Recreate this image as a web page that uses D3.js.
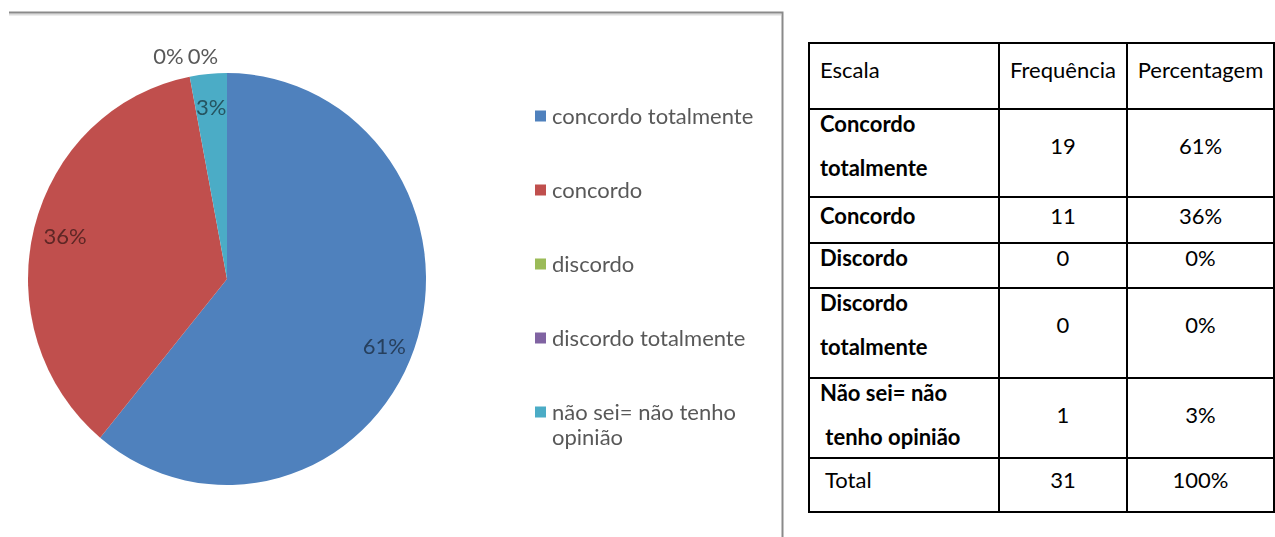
<!DOCTYPE html>
<html>
<head>
<meta charset="utf-8">
<script src="https://cdn.jsdelivr.net/npm/d3@7"></script>
<style>
  html, body { margin: 0; padding: 0; background: #fff; }
  svg { display: block; }
</style>
</head>
<body>
<svg id="chart" width="1275" height="537"></svg>
<script>
// ---- data ----
const categories = ["concordo totalmente", "concordo", "discordo", "discordo totalmente", "não sei= não tenho opinião"];
const percentValues = [61, 36, 0, 0, 3];
const sliceColors = ["#4F81BD", "#C0504D", "#9BBB59", "#8064A2", "#4BACC6"];

const tableHeader = ["Escala", "Frequência", "Percentagem"];
const tableScale = [["Concordo", "totalmente"], ["Concordo"], ["Discordo"], ["Discordo", "totalmente"], ["Não sei= não", "\u00a0tenho opinião"]];
const tableFrequency = [19, 11, 0, 0, 1];
const tablePercent = ["61%", "36%", "0%", "0%", "3%"];
const tableTotal = ["\u00a0Total", "31", "100%"];

// ---- layout ----
const svg = d3.select("#chart");
const FONT = "Lato, 'Open Sans', sans-serif";

// soft look of the chart panel
const defs = svg.append("defs");
defs.append("filter").attr("id", "soft")
  .append("feGaussianBlur").attr("stdDeviation", 0.55);

const panel = svg.append("g").attr("filter", "url(#soft)");

// panel frame: top and right edge
panel.append("path").attr("d", "M9,14.5H781").attr("stroke", "#dcdcdc").attr("stroke-width", 2).attr("fill", "none");
panel.append("path").attr("d", "M9,12.5H782.5V537").attr("stroke", "#8a8a8a").attr("stroke-width", 2).attr("fill", "none");

// pie
const cx = 227, cy = 279, rx = 199, ry = 206;
const pie = d3.pie().sort(null).value(d => d);
const arcs = pie(percentValues);
const arc = d3.arc().innerRadius(0).outerRadius(rx);

const pieG = panel.append("g").attr("transform", `translate(${cx},${cy}) scale(1,${ry / rx})`);
pieG.selectAll("path")
  .data(arcs)
  .join("path")
  .attr("d", arc)
  .attr("fill", (d, i) => sliceColors[i]);

// slice labels
const labelG = panel.append("g").attr("font-family", FONT).attr("font-size", 22);
const zeroArcs = [];
arcs.forEach((d, i) => {
  const a = (d.startAngle + d.endAngle) / 2;
  if (d.value > 0) {
    const k = 0.84;
    labelG.append("text")
      .attr("x", cx + Math.sin(a) * rx * k)
      .attr("y", cy - Math.cos(a) * ry * k + (Math.sin(a) > 0.5 ? 8 : 0))
      .attr("text-anchor", "middle")
      .attr("dy", "0.36em")
      .attr("fill", d3.color(sliceColors[i]).darker(2))
      .text(d3.format(".0%")(d.value / 100));
  } else {
    zeroArcs.push({ d, a });
  }
});
// zero-width slices get their labels just outside the rim, side by side
zeroArcs.forEach(({ d, a }, j) => {
  const off = 21;
  const x = cx + Math.sin(a) * (rx + off);
  const y = cy - Math.cos(a) * (ry + off);
  labelG.append("text")
    .attr("x", j === 0 ? x - 2 : x + 2)
    .attr("y", y)
    .attr("text-anchor", j === 0 ? "end" : "start")
    .attr("dy", "0.36em")
    .attr("fill", "#595959")
    .text(d3.format(".0%")(d.value / 100));
});

// legend
const legendX = 535, legendTop = 116, legendStep = 74, legendWrap = 222;
const legend = panel.append("g").attr("font-family", FONT).attr("font-size", 22).attr("fill", "#595959");
categories.forEach((name, i) => {
  const y = legendTop + i * legendStep;
  legend.append("rect")
    .attr("x", legendX).attr("y", y - 5.5)
    .attr("width", 11).attr("height", 11)
    .attr("fill", sliceColors[i]);
  const t = legend.append("text").attr("x", legendX + 17).attr("y", y).attr("dy", "0.36em");
  // simple word wrap
  const words = name.split(" ");
  let line = [];
  let ts = t.append("tspan").attr("x", legendX + 17).attr("dy", "0.36em");
  words.forEach(w => {
    line.push(w);
    ts.text(line.join(" "));
    if (ts.node().getComputedTextLength() > legendWrap && line.length > 1) {
      line.pop();
      ts.text(line.join(" "));
      line = [w];
      ts = t.append("tspan").attr("x", legendX + 17).attr("dy", "1.15em").text(w);
    }
  });
});

// ---- table ----
const colEdges = [809, 999, 1127, 1274];
const rowEdges = [43, 109, 197, 243, 288, 378, 458, 512];
const firstLinePad = [27, 15, 19, 15, 15, 15, 22];
const lineGap = 44;
const table = svg.append("g").attr("font-family", FONT).attr("font-size", 22).attr("fill", "#000");

const rows = [
  { cells: [[tableHeader[0]], tableHeader[1], tableHeader[2]], bold: false },
  ...tableScale.map((s, i) => ({ cells: [s, String(tableFrequency[i]), tablePercent[i]], bold: true })),
  { cells: [[tableTotal[0]], tableTotal[1], tableTotal[2]], bold: false }
];

rows.forEach((r, i) => {
  const top = rowEdges[i];
  const lines = r.cells[0];
  const first = top + firstLinePad[i];
  lines.forEach((ln, j) => {
    table.append("text")
      .attr("x", colEdges[0] + 11)
      .attr("y", first + j * lineGap)
      .attr("dy", "0.36em")
      .attr("font-weight", r.bold ? 700 : 400)
      .text(ln);
  });
  const mid = first + (lines.length - 1) * lineGap / 2;
  [1, 2].forEach(c => {
    table.append("text")
      .attr("x", (colEdges[c] + colEdges[c + 1]) / 2)
      .attr("y", mid)
      .attr("dy", "0.36em")
      .attr("text-anchor", "middle")
      .text(r.cells[c]);
  });
});

const grid = table.append("g").attr("stroke", "#000").attr("stroke-width", 2);
rowEdges.forEach(y => grid.append("line").attr("x1", colEdges[0] - 1).attr("x2", colEdges[3] + 1).attr("y1", y).attr("y2", y));
colEdges.forEach(x => grid.append("line").attr("x1", x).attr("x2", x).attr("y1", rowEdges[0] - 1).attr("y2", rowEdges[rowEdges.length - 1] + 1));
</script>
</body>
</html>
